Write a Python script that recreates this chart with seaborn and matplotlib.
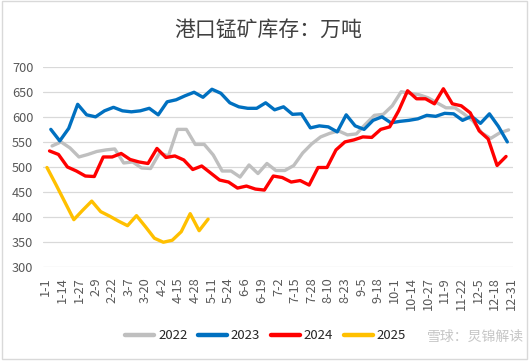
import pandas as pd
import matplotlib
matplotlib.use('Agg')
import matplotlib.pyplot as plt
import seaborn as sns
import numpy as np

# Dados semanais (quinta-feira) de cada ano
v2022 = [542, 550, 538, 520, 525, 531, 534, 536, 508, 510, 498, 497, 528, 522,
         575, 575, 545, 545, 524, 492, 492, 480, 504, 487, 507, 493, 493, 503,
         528, 546, 560, 567, 572, 564, 566, 585, 603, 605, 622, 650, 647, 644,
         638, 628, 618, 618, 606, 592, 568, 557, 568, 574]
v2023 = [575, 552, 577, 625, 604, 600, 612, 619, 612, 610, 612, 617, 604, 630,
         634, 642, 649, 639, 655, 647, 628, 620, 617, 617, 628, 614, 620, 605,
         606, 578, 582, 580, 570, 604, 582, 575, 593, 600, 588, 591, 593, 596,
         603, 601, 607, 606, 593, 601, 587, 606, 581, 550]
v2024 = [532, 525, 500, 492, 482, 481, 520, 520, 527, 515, 510, 507, 537, 519,
         522, 514, 495, 502, 488, 474, 470, 458, 462, 456, 454, 482, 479, 470,
         473, 464, 499, 499, 534, 550, 554, 560, 559, 575, 580, 612, 652, 636,
         636, 626, 656, 626, 622, 608, 572, 556, 503, 521]
v2025 = [499, 465, 430, 395, 414, 432, 411, 402, 392, 383, 403, 381, 358, 350,
         354, 371, 407, 373, 396]
primeira_data = {'2022': '2022-01-06', '2023': '2023-01-05',
                 '2024': '2024-01-04', '2025': '2025-01-02'}
valores = {'2022': v2022, '2023': v2023, '2024': v2024, '2025': v2025}
rotulos_x = ['1-1', '1-14', '1-27', '2-9', '2-22', '3-7', '3-20', '4-2', '4-15',
             '4-28', '5-11', '5-24', '6-6', '6-19', '7-2', '7-15', '7-28', '8-10',
             '8-23', '9-5', '9-18', '10-1', '10-14', '10-27', '11-9', '11-22',
             '12-5', '12-18', '12-31']
cores = {'2022': '#BFBFBF', '2023': '#0070C0', '2024': '#FF0000', '2025': '#FFC000'}

# Montando o DataFrame em formato longo
partes = []
for ano, vals in valores.items():
    datas = pd.date_range(primeira_data[ano], periods=len(vals), freq='7D')
    partes.append(pd.DataFrame({'dia': datas.dayofyear - 1, 'valor': vals, 'ano': ano}))
df = pd.concat(partes, ignore_index=True)

sns.set_theme(style='white')
plt.rcParams['font.family'] = ['Noto Sans CJK SC', 'DejaVu Sans']

fig = plt.figure(figsize=(5.31, 3.63), dpi=100)
ax = fig.add_axes([0.081, 0.2636, 0.885, 0.5527])

sns.lineplot(data=df, x='dia', y='valor', hue='ano', palette=cores,
             linewidth=2.4, ax=ax, sort=False)

ax.set_ylim(300, 700)
ax.set_yticks(np.arange(300, 701, 50))
ax.set_xlim(-2.1, 365.4)
ax.set_xticks(np.arange(len(rotulos_x)) * 13)
ax.set_xticklabels(rotulos_x, rotation=90)
ax.tick_params(axis='both', labelsize=9.2, labelcolor='#595959', length=0)
ax.tick_params(axis='y', pad=7)
ax.tick_params(axis='x', pad=7)
ax.grid(axis='y', color='#D9D9D9', linewidth=0.9)
ax.set_axisbelow(True)
ax.set_xlabel('')
ax.set_ylabel('')
for s in ax.spines.values():
    s.set_visible(False)

fig.text(0.505, 0.915, '港口锰矿库存：万吨', ha='center', va='center',
         fontsize=15, color='#404040')

handles, labels = ax.get_legend_handles_labels()
ax.legend_.remove()
for h in handles:
    h.set_linewidth(3.2)
fig.legend(handles, labels, loc='center', bbox_to_anchor=(0.50, 0.075), ncol=4,
           frameon=False, fontsize=9.5, handlelength=2.2, columnspacing=0.8,
           handletextpad=0.3, labelcolor='#262626')

# Marca d'água
fig.text(0.895, 0.072, '雪球：炅锦解读', ha='center', va='center', fontsize=10,
         color='#A0A0A0', alpha=0.6)

# Borda do gráfico
fig.patches.append(plt.Rectangle((0.004, 0.012), 0.988, 0.984, transform=fig.transFigure,
                                 fill=False, edgecolor='#D9D9D9', linewidth=1))

fig.savefig('out.png', dpi=100)
